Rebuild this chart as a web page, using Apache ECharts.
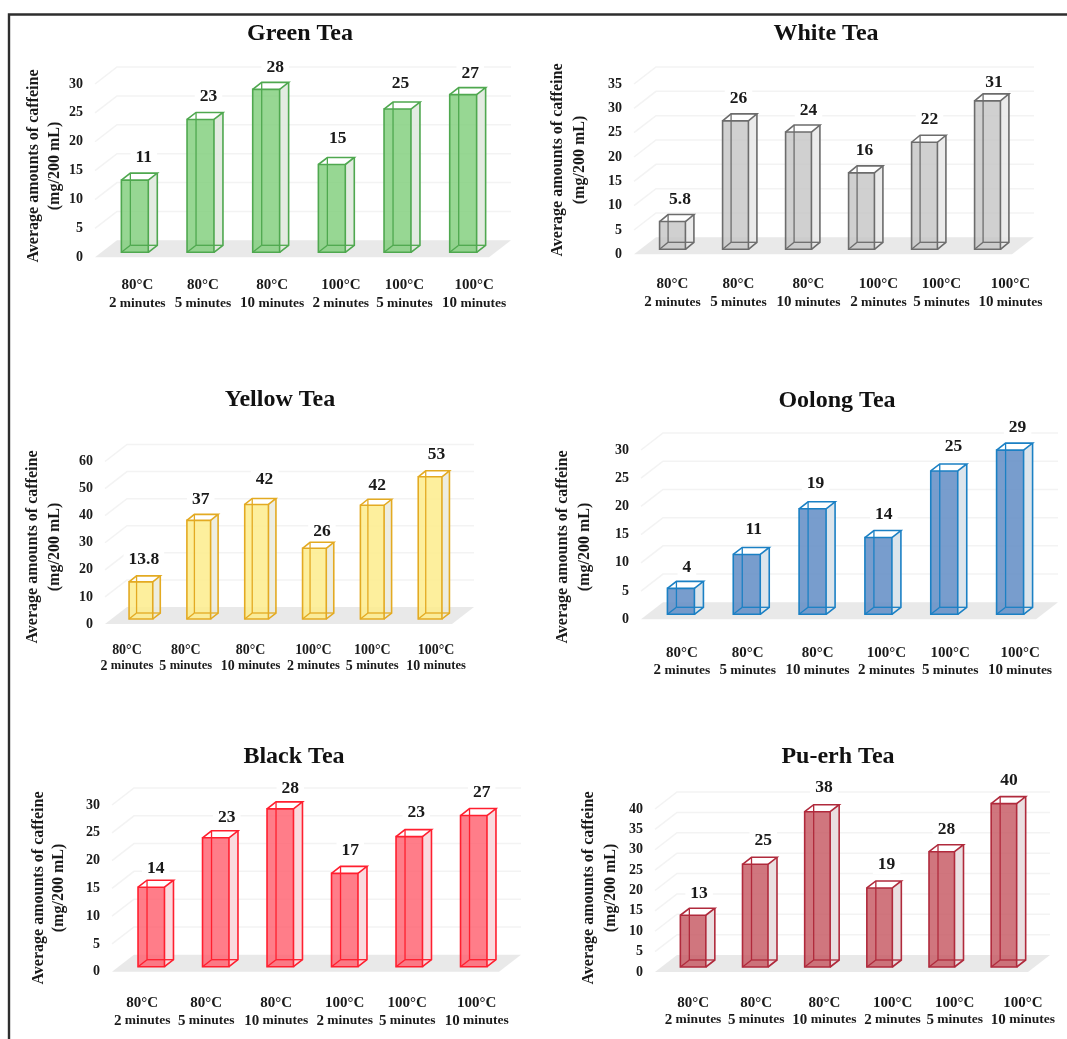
<!DOCTYPE html>
<html>
<head>
<meta charset="utf-8">
<title>Average amounts of caffeine by tea type</title>
<script src="https://cdn.jsdelivr.net/npm/echarts@6/dist/echarts.min.js"></script>
<style>
  html, body { margin: 0; padding: 0; background: #fff; }
  #chart { width: 1067px; height: 1039px; filter: blur(0.6px); }
</style>
</head>
<body>
<div id="chart"></div>
<script>
// Data
const tempLabels = ['80°C', '80°C', '80°C', '100°C', '100°C', '100°C'];
const timeNumbers = ['2', '5', '10', '2', '5', '10'];
const timeUnit = 'minutes';
const yTitleLines = ['Average amounts of caffeine', '(mg/200 mL)'];

// bar heights as drawn (the printed labels do not always agree with them)
const greenValues = [12.5, 23, 28.2, 15.2, 24.8, 27.3];
const whiteValues = [5.7, 26.4, 24.1, 15.7, 22, 30.5];
const yellowValues = [13.7, 36.4, 42.3, 26.1, 42, 52.5];
const oolongValues = [4.6, 10.6, 18.7, 13.6, 25.4, 29.1];
const blackValues = [14.3, 23.2, 28.4, 16.8, 23.4, 27.2];
const puerhValues = [12.7, 25.2, 38.1, 19.4, 28.3, 40.1];

const greenLabels = ['11', '23', '28', '15', '25', '27'];
const whiteLabels = ['5.8', '26', '24', '16', '22', '31'];
const yellowLabels = ['13.8', '37', '42', '26', '42', '53'];
const oolongLabels = ['4', '11', '19', '14', '25', '29'];
const blackLabels = ['14', '23', '28', '17', '23', '27'];
const puerhLabels = ['13', '25', '38', '19', '28', '40'];

const greenTicks = [0, 5, 10, 15, 20, 25, 30];
const whiteTicks = [0, 5, 10, 15, 20, 25, 30, 35];
const yellowTicks = [0, 10, 20, 30, 40, 50, 60];
const oolongTicks = [0, 5, 10, 15, 20, 25, 30];
const blackTicks = [0, 5, 10, 15, 20, 25, 30];
const puerhTicks = [0, 5, 10, 15, 20, 25, 30, 35, 40];

// Layout and colours of each panel
const FONT = '"Liberation Serif", serif';
const TEXT = '#1a1a1a';

const panels = [
    {
        title: 'Green Tea', titleX: 300, titleY: 22, values: greenValues, labels: greenLabels, ticks: greenTicks,
        left: 102, width: 394, top: 84, bottom: 257.3, depth: [9, -7], yTitleX: [34, 55], yTitleY: 166,
        labelMargin: 19, lineH: 18, fontScale: 1,
        xShift: [2.5, 2.5, 6, 9, 7, 11], valueDx: [9, 8, 9, 6, 3, 7], valueDy: [-16, -16, -15, -19, -19, -14],
        stroke: '#4fa84f', front: 'rgba(122,204,116,0.78)', side: 'rgba(222,232,220,0.85)'
    },
    {
        title: 'White Tea', titleX: 826, titleY: 22, values: whiteValues, labels: whiteLabels, ticks: whiteTicks,
        left: 641, width: 378, top: 84, bottom: 254.3, depth: [8.5, -7], yTitleX: [558, 580], yTitleY: 160,
        labelMargin: 21, lineH: 18, fontScale: 1,
        xShift: [0, 3, 10, 17, 17, 23], valueDx: [7.5, 3, 10, 3, 5, 6.5], valueDy: [-15, -15, -15, -15, -16, -11],
        stroke: '#6c6c6c', front: 'rgba(196,196,196,0.8)', side: 'rgba(232,232,232,0.85)'
    },
    {
        title: 'Yellow Tea', titleX: 280, titleY: 388, values: yellowValues, labels: yellowLabels, ticks: yellowTicks,
        left: 112, width: 347, top: 461.5, bottom: 624, depth: [7.5, -6], yTitleX: [33, 55], yTitleY: 547,
        labelMargin: 18, lineH: 16, fontScale: 0.93,
        xShift: [-14, -13, -6, -1, 0, 6], valueDx: [3, 2, 8, 7.5, 5, 6.5], valueDy: [-16, -15, -19, -11, -14, -16],
        stroke: '#e3aa22', front: 'rgba(253,236,140,0.85)', side: 'rgba(234,234,220,0.85)'
    },
    {
        title: 'Oolong Tea', titleX: 837, titleY: 389, values: oolongValues, labels: oolongLabels, ticks: oolongTicks,
        left: 648, width: 395, top: 450, bottom: 619.3, depth: [9, -7], yTitleX: [562.5, 585], yTitleY: 547,
        labelMargin: 25.5, lineH: 17, fontScale: 1,
        xShift: [1, 1, 5, 8, 6, 10], valueDx: [6, 7, 3, 5.4, 9.3, 7.5], valueDy: [-14, -18, -18, -16, -17, -16],
        stroke: '#1b80c4', front: 'rgba(96,140,196,0.85)', side: 'rgba(216,226,234,0.9)'
    },
    {
        title: 'Black Tea', titleX: 294, titleY: 745, values: blackValues, labels: blackLabels, ticks: blackTicks,
        left: 119, width: 387, top: 805, bottom: 971.7, depth: [9, -7], yTitleX: [38.5, 59], yTitleY: 888,
        labelMargin: 22, lineH: 18, fontScale: 1,
        xShift: [-9, -9.5, -4, 0, -2, 3], valueDx: [4.5, 11, 10, 5.5, 7, 8], valueDy: [-12, -13, -13, -16, -17, -16],
        stroke: '#ff1f2f', front: 'rgba(255,92,108,0.8)', side: 'rgba(250,214,218,0.9)'
    },
    {
        title: 'Pu-erh Tea', titleX: 838, titleY: 745, values: puerhValues, labels: puerhLabels, ticks: puerhTicks,
        left: 662, width: 373, top: 809, bottom: 972, depth: [9, -7], yTitleX: [589, 611], yTitleY: 888,
        labelMargin: 22.5, lineH: 17, fontScale: 1,
        xShift: [0, 1, 7, 13, 13, 19], valueDx: [6, 8, 6.5, 7, 4.7, 5], valueDy: [-15, -17, -17, -16, -15, -16],
        stroke: '#b02a3c', front: 'rgba(198,88,98,0.82)', side: 'rgba(232,220,222,0.9)'
    }
];

const BAR_RATIO = 0.41;      // bar width / category band
const BASE_LIFT = 5;         // bars stand this far behind the front edge of the floor
const WALL_DX = 22;          // perspective of the floor and the grid lines
const WALL_DY = -17;
const FLOOR_COLOR = '#e9e9e9';
const GRID_COLOR = '#f3f3f3';

/**
 * Draws the floor (for tick 0) or one perspective grid line.
 */
const renderWall = (params, api) => {
    const sys = params.coordSys;
    const y = api.coord([0, api.value(1)])[1];
    const x0 = sys.x - 7;
    const x1 = sys.x + sys.width + 15;
    if (api.value(1) === 0) {
        return {
            type: 'polygon',
            shape: { points: [[x0, y], [x1 - WALL_DX, y], [x1, y + WALL_DY], [x0 + WALL_DX, y + WALL_DY]] },
            style: { fill: FLOOR_COLOR },
            silent: true
        };
    }
    return {
        type: 'polyline',
        shape: { points: [[x0, y], [x0 + WALL_DX, y + WALL_DY], [x1, y + WALL_DY]] },
        style: { fill: null, stroke: GRID_COLOR, lineWidth: 1.5 },
        silent: true
    };
};

/**
 * Returns the renderItem of one panel: a see-through box with its value on top.
 */
const makeBarRenderer = (panel) => (params, api) => {
    const idx = api.value(0);
    const [cx, yTop] = api.coord([idx, api.value(1)]);
    const yBase = api.coord([idx, 0])[1] - BASE_LIFT;
    const top = yTop - BASE_LIFT;
    const w = api.size([1, 0])[0] * BAR_RATIO;
    const x0 = cx - w / 2, x1 = cx + w / 2;
    const [dx, dy] = panel.depth;
    const line = { stroke: panel.stroke, lineWidth: 1.6, fill: null };
    const seg = (x1s, y1s, x2s, y2s) => ({
        type: 'line', shape: { x1: x1s, y1: y1s, x2: x2s, y2: y2s },
        style: { stroke: panel.stroke, lineWidth: 1.3 }
    });
    return {
        type: 'group',
        silent: true,
        children: [
            // side and top faces
            { type: 'polygon', shape: { points: [[x1, top], [x1 + dx, top + dy], [x1 + dx, yBase + dy], [x1, yBase]] }, style: { fill: panel.side } },
            { type: 'polygon', shape: { points: [[x0, top], [x1, top], [x1 + dx, top + dy], [x0 + dx, top + dy]] }, style: { fill: 'rgba(255,255,255,0.9)' } },
            // front face
            { type: 'rect', shape: { x: x0, y: top, width: w, height: yBase - top }, style: { fill: panel.front } },
            // edges at the back, seen through the front
            seg(x0 + dx, top + dy, x0 + dx, yBase + dy),
            seg(x0 + dx, yBase + dy, x1 + dx, yBase + dy),
            seg(x0, yBase, x0 + dx, yBase + dy),
            { type: 'rect', shape: { x: x0, y: top, width: w, height: yBase - top }, style: line },
            // outline of the top and the side
            { type: 'polyline', shape: { points: [[x0, top], [x0 + dx, top + dy], [x1 + dx, top + dy], [x1, top]] }, style: line },
            { type: 'polyline', shape: { points: [[x1 + dx, top + dy], [x1 + dx, yBase + dy], [x1, yBase]] }, style: line },
            // printed value, its white box breaks the grid lines behind it
            {
                type: 'text',
                style: {
                    text: panel.labels[idx],
                    x: cx + panel.valueDx[idx],
                    y: top + dy + panel.valueDy[idx],
                    align: 'center', verticalAlign: 'middle',
                    font: 'bold 17.5px ' + FONT, fill: TEXT,
                    backgroundColor: '#fff', padding: [0, 5, 0, 5]
                }
            }
        ]
    };
};

// Two-line category labels; the padding moves them off the band centre as in the picture
const makeRich = (panel) => {
    const rich = {};
    const lineHeight = panel.lineH;
    panel.xShift.forEach((shift, i) => {
        const pad = [0, Math.max(-shift, 0) * 2, 0, Math.max(shift, 0) * 2];
        const base = { fontFamily: FONT, fontWeight: 'bold', color: TEXT, lineHeight };
        rich['t' + i] = { ...base, fontSize: 15 * panel.fontScale, padding: pad };
        rich['n' + i] = { ...base, fontSize: 15 * panel.fontScale, padding: [0, 0, 0, pad[3]] };
        rich['m' + i] = { ...base, fontSize: 13.5 * panel.fontScale, padding: [0, pad[1], 0, 0] };
    });
    return rich;
};

const grid = panels.map(p => ({ left: p.left, width: p.width, top: p.top, height: p.bottom - p.top, containLabel: false }));

const xAxis = panels.map((p, g) => ({
    type: 'category',
    gridIndex: g,
    data: tempLabels.map((t, i) => t + ' ' + timeNumbers[i] + ' ' + timeUnit),
    axisLine: { show: false },
    axisTick: { show: false },
    axisLabel: {
        interval: 0,
        margin: p.labelMargin,
        hideOverlap: false,
        rich: makeRich(p),
        formatter: (value, i) => `{t${i}|${tempLabels[i]}}\n{n${i}|${timeNumbers[i]}} {m${i}|${timeUnit}}`
    }
}));

const yAxis = panels.map((p, g) => ({
    type: 'value',
    gridIndex: g,
    min: 0,
    max: p.ticks[p.ticks.length - 1],
    interval: p.ticks[1],
    axisLine: { show: false },
    axisTick: { show: false },
    splitLine: { show: false },
    axisLabel: { margin: 19, fontFamily: FONT, fontWeight: 'bold', fontSize: 14, color: TEXT }
}));

const series = [];
panels.forEach((p, g) => {
    series.push({
        type: 'custom', xAxisIndex: g, yAxisIndex: g, z: 1, silent: true, clip: false,
        renderItem: renderWall,
        encode: { x: 0, y: 1 },
        data: p.ticks.map(t => [0, t])
    });
    series.push({
        type: 'custom', xAxisIndex: g, yAxisIndex: g, z: 2, silent: true, clip: false,
        renderItem: makeBarRenderer(p),
        encode: { x: 0, y: 1 },
        data: p.values.map((v, i) => [i, v])
    });
});

const title = panels.map(p => ({
    text: p.title,
    left: p.titleX,
    top: p.titleY,
    padding: 0,
    textAlign: 'center',
    textStyle: { fontFamily: FONT, fontWeight: 'bold', fontSize: 24, color: '#111' }
}));

// Rotated axis titles and the frame open at the right and bottom
const yTitles = [];
panels.forEach(p => {
    yTitleLines.forEach((text, i) => {
        yTitles.push({
            type: 'text',
            x: p.yTitleX[i],
            y: p.yTitleY,
            rotation: Math.PI / 2,
            silent: true,
            style: { text, align: 'center', verticalAlign: 'middle', font: 'bold 16px ' + FONT, fill: TEXT }
        });
    });
});

const frame = {
    type: 'polyline',
    silent: true,
    shape: { points: [[9, 1039], [9, 14.5], [1067, 14.5]] },
    style: { fill: null, stroke: '#2e2e2e', lineWidth: 2.4 }
};

const chart = echarts.init(document.getElementById('chart'), null, { renderer: 'canvas' });
chart.setOption({
    animation: false,
    backgroundColor: '#fff',
    title,
    grid,
    xAxis,
    yAxis,
    series,
    graphic: [frame, ...yTitles]
});
</script>
</body>
</html>
